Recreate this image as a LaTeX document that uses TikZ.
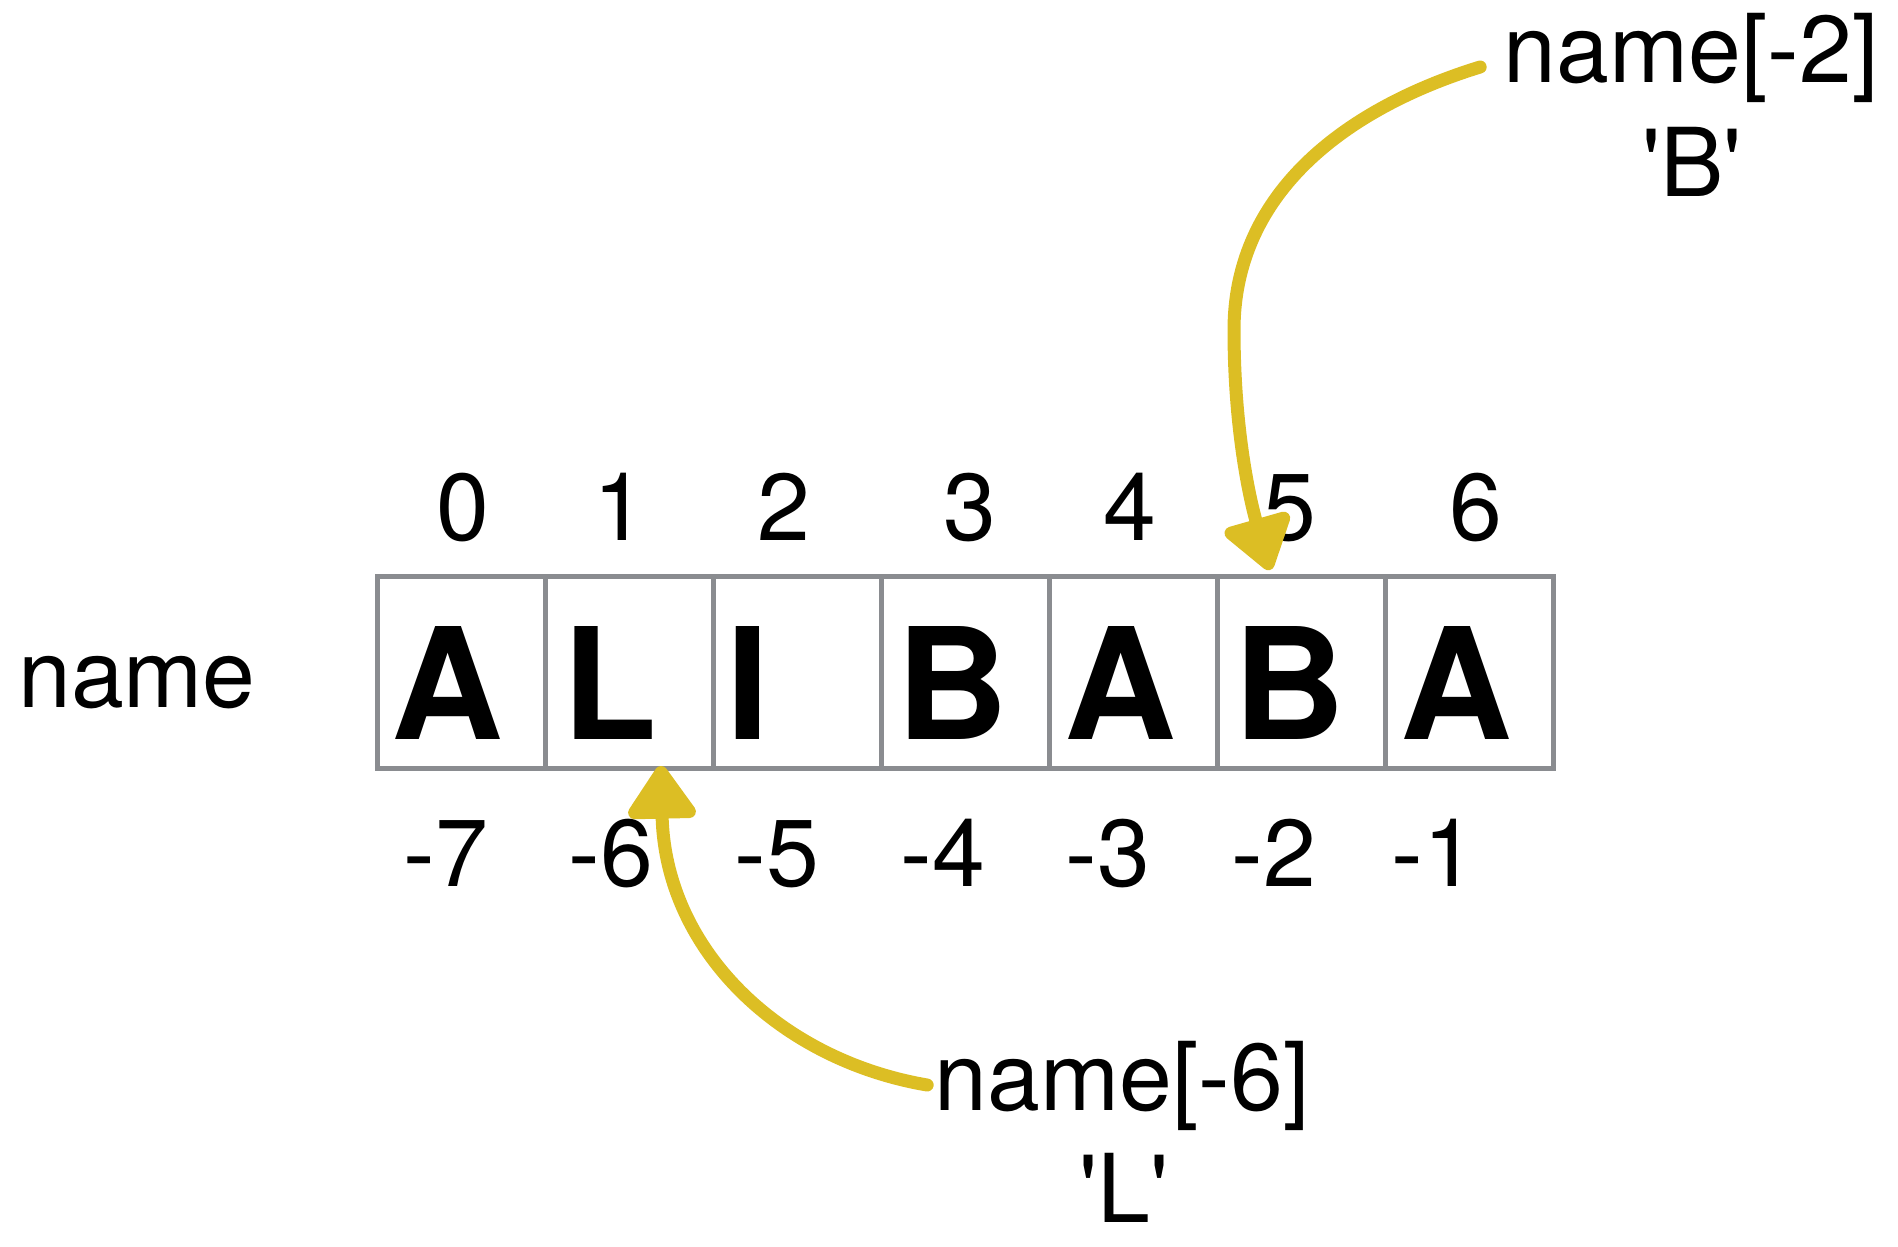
\documentclass[tikz,border=0pt]{standalone}
\usepackage{fontspec}
\setmainfont{TeX Gyre Heros}
\usetikzlibrary{arrows.meta}
\definecolor{cellgray}{RGB}{138,140,144}
\definecolor{chalk}{RGB}{220,190,36}

\begin{document}
\begin{tikzpicture}[x=0.5pt,y=-0.5pt,
  cellbox/.style={draw=cellgray, line width=2.5pt, minimum width=84pt,
    minimum height=96pt, inner sep=0pt, outer sep=0pt},
  letter/.style={anchor=base, inner sep=0pt,
    font=\fontsize{77.5}{80}\selectfont\bfseries},
  idx/.style={anchor=base, inner sep=0pt, font=\fontsize{47.5}{57}\selectfont},
  lbl/.style={anchor=base, inner sep=0pt, font=\fontsize{47.5}{57}\selectfont},
  pointer/.style={draw=chalk, line width=6.5pt, line cap=round,
    -{Triangle[width=38pt,length=29pt,round]}}
]
\useasboundingbox (0,0) rectangle (1898,1246);

% the string cells
\foreach \i in {0,...,6}
  \node[cellbox] (c\i) at ({461+168*\i},672) {};

% characters of the string
\foreach \x/\ch [count=\k from 0] in {447/A,610/L,748/I,952/B,1120/A,1289/B,1456/A}
  \node[letter] (ch\k) at (\x,739) {\ch};

% positive indices
\foreach \x/\d [count=\k from 0] in {463/0,620/1,784/2,970/3,1130/4,1290/5,1476/6}
  \node[idx] (p\k) at (\x,540) {\d};

% negative indices
\foreach \x/\d [count=\k from 0] in {446/-7,611/-6,777/-5,943/-4,1108/-3,1274/-2,1434/-1}
  \node[idx] (n\k) at (\x,886) {\d};

% labels
\node[lbl] (var) at (137,707) {name};
\node[lbl] (acc2) at (1691,83) {name[-2]};
\node[lbl] (val2) at (1692,197) {\textquotesingle B\textquotesingle};
\node[lbl] (acc6) at (1122,1110) {name[-6]};
\node[lbl] (val6) at (1124,1222) {\textquotesingle L\textquotesingle};

% pointer ends
\coordinate (s2) at ([shift={(-11.5pt,8pt)}]acc2.base west);
\coordinate (e2) at ([shift={(-15.5pt,3pt)}]c5.north);
\coordinate (s6) at ([shift={(-3.5pt,12.5pt)}]acc6.base west);
\coordinate (e6) at ([shift={(16pt,1pt)}]c1.south);

% pointers
\draw[pointer] (s2) .. controls +(-130,40) and +(0,-140) .. (1234,330)
  .. controls +(0,100) and +(-20,-70) .. (e2);
\draw[pointer] (s6) .. controls +(-147,-25) and +(4,184) .. (e6);
\end{tikzpicture}
\end{document}
